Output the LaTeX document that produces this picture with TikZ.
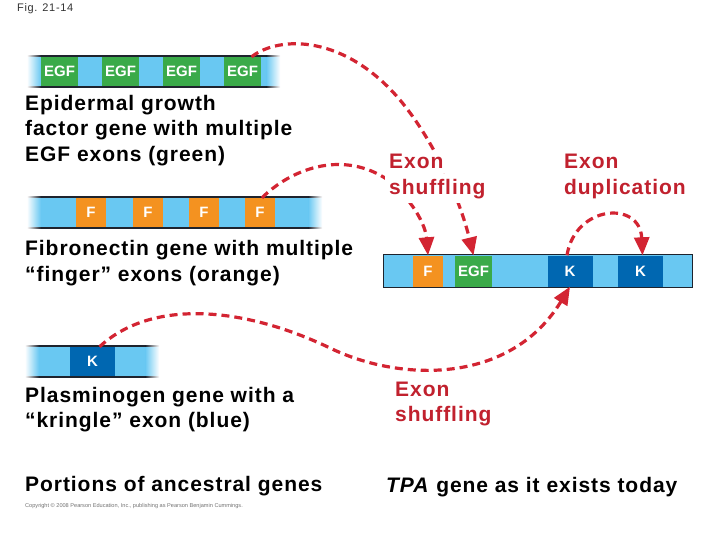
\documentclass[tikz,border=0pt]{standalone}
\usepackage{fontspec}
\setmainfont{Liberation Sans}
\newfontfamily\labfont{Liberation Sans}[LetterSpace=4.5]
\newfontfamily\figfont{Liberation Sans}[LetterSpace=6.0]
\usetikzlibrary{arrows.meta}
\definecolor{barblue}{RGB}{105,200,242}
\definecolor{exgreen}{RGB}{58,170,73}
\definecolor{exorange}{RGB}{244,146,32}
\definecolor{exdark}{RGB}{0,103,177}
\definecolor{linecol}{RGB}{30,35,45}
\definecolor{arrred}{RGB}{211,36,50}
\definecolor{labred}{RGB}{193,33,46}
\newcommand\barends[1]{%
  \fill[left color=white,right color=barblue] (#1.north west) rectangle ([xshift=14pt]#1.south west);
  \fill[left color=barblue,right color=white] ([xshift=-14pt]#1.north east) rectangle (#1.south east);
  \draw[barline] ([xshift=14pt]#1.north west) -- ([xshift=-14pt]#1.north east);
  \draw[barline] ([xshift=14pt]#1.south west) -- ([xshift=-14pt]#1.south east);
  \fill[left color=white,right color=linecol] ([yshift=0.75pt]#1.north west) rectangle ([xshift=14pt,yshift=-0.75pt]#1.north west);
  \fill[left color=white,right color=linecol] ([yshift=0.75pt]#1.south west) rectangle ([xshift=14pt,yshift=-0.75pt]#1.south west);
  \fill[left color=linecol,right color=white] ([xshift=-14pt,yshift=0.75pt]#1.north east) rectangle ([yshift=-0.75pt]#1.north east);
  \fill[left color=linecol,right color=white] ([xshift=-14pt,yshift=0.75pt]#1.south east) rectangle ([yshift=-0.75pt]#1.south east);
}
\begin{document}
\begin{tikzpicture}[x=1pt,y=-1pt,
  lab/.style={anchor=base west, inner sep=0pt, font=\labfont\bfseries\fontsize{21}{25}\selectfont},
  redlab/.style={lab, text=labred, fill=white, inner sep=4pt},
  exon/.style={inner sep=0pt, minimum height=29pt, text=white, font=\bfseries\fontsize{15}{15}\selectfont},
  egfx/.style={exon, fill=exgreen, minimum width=37pt},
  fx/.style={exon, fill=exorange, minimum width=30pt},
  kx/.style={exon, fill=exdark, minimum width=45pt},
  bar/.style={fill=barblue, inner sep=0pt, minimum height=31pt},
  barline/.style={draw=linecol, line width=1.5pt},
  arr/.style={draw=arrred, line width=3.2pt, dash pattern=on 8pt off 5pt,
    -{Triangle[length=18pt,width=15pt,fill=arrred]}}]
\useasboundingbox[fill=white] (0,0) rectangle (720,540);

% figure number
\node[anchor=base west, inner sep=0pt, text=black!80, font=\figfont\fontsize{11}{12}\selectfont] (fig) at (17,12) {Fig. 21-14};

% EGF gene
\node[bar, minimum width=253pt] (egfbar) at (153.5,71.5) {};
\node[egfx] (e1) at (59.5,71.5) {EGF};
\node[egfx] (e2) at (120.5,71.5) {EGF};
\node[egfx] (e3) at (181.5,71.5) {EGF};
\node[egfx] (e4) at (242.5,71.5) {EGF};
\barends{egfbar}

% Fibronectin gene
\node[bar, minimum width=295pt] (fnbar) at (174.5,212.5) {};
\node[fx] (f1) at (91,212.5) {F};
\node[fx] (f2) at (148,212.5) {F};
\node[fx] (f3) at (204,212.5) {F};
\node[fx] (f4) at (260,212.5) {F};
\barends{fnbar}

% Plasminogen gene
\node[bar, minimum width=134pt] (plbar) at (92,361.5) {};
\node[kx] (pk) at (92.5,361.5) {K};
\barends{plbar}

% TPA gene
\node[bar, minimum width=308pt, minimum height=32pt] (tpabar) at (538,271) {};
\node[fx, minimum height=31pt] (t1) at (428,271) {F};
\node[egfx, minimum height=31pt] (t2) at (473.5,271) {EGF};
\node[kx, minimum height=31pt] (t3) at (570,271) {K};
\node[kx, minimum height=31pt] (t4) at (640.5,271) {K};
\draw[linecol, line width=1.3pt] (tpabar.north west) rectangle (tpabar.south east);

% black labels
\node[lab] (a1) at (25,110.5) {Epidermal growth};
\node[lab] (a2) at (25,136) {factor gene with multiple};
\node[lab] (a3) at (25,161.5) {EGF exons (green)};
\node[lab] (b1) at (25,255.5) {Fibronectin gene with multiple};
\node[lab] (b2) at (25,281) {“finger” exons (orange)};
\node[lab] (c1) at (25,402) {Plasminogen gene with a};
\node[lab] (c2) at (25,427) {“kringle” exon (blue)};
\node[lab] (d1) at (25,491) {Portions of ancestral genes};
\node[lab] (d2) at (386,492) {\textit{TPA} gene as it exists today};

% arrows
\draw[arr] ([xshift=9pt]e4.north) .. controls (280,35) and (345,35) .. (400,100)
  .. controls (435,142) and (460,200) .. (t2.north);
\draw[arr] ([xshift=2pt]f4.north) .. controls (290,170) and (340,150) .. (385,178)
  .. controls (405,192) and (425,220) .. (t1.north);
\draw[arr] ([xshift=7pt]pk.north) .. controls (150,300) and (240,305) .. (330,348)
  .. controls (400,382) and (510,385) .. (t3.south);
\draw[arr] ([xshift=-3pt]t3.north) .. controls (575,205) and (640,200) .. ([xshift=2pt]t4.north);

% red labels
\node[redlab] (s1) at (385,169) {Exon};
\node[redlab] (s2) at (385,194.5) {shuffling};
\node[lab, text=labred] (u1) at (564,169) {Exon};
\node[lab, text=labred] (u2) at (564,194.5) {duplication};
\node[lab, text=labred] (v1) at (395,396) {Exon};
\node[lab, text=labred] (v2) at (395,421) {shuffling};

% copyright
\node[anchor=base west, inner sep=0pt, text=black!55, font=\fontsize{5.6}{6}\selectfont] (copy) at (25,507) {Copyright © 2008 Pearson Education, Inc., publishing as Pearson Benjamin Cummings.};
\end{tikzpicture}
\end{document}
